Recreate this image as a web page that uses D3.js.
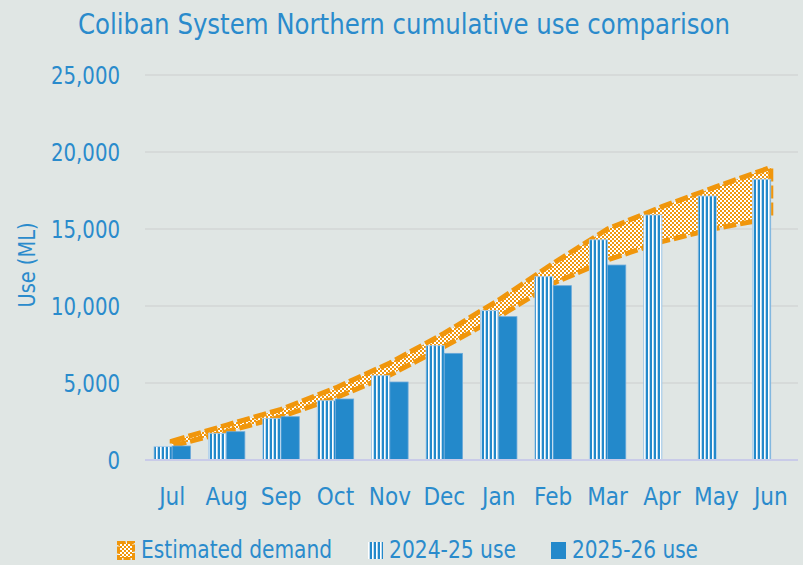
<!DOCTYPE html>
<html>
<head>
<meta charset="utf-8">
<script src="https://cdn.jsdelivr.net/npm/d3@7"></script>
<style>
  html, body { margin: 0; padding: 0; background: #e0e6e4; }
  svg { display: block; }
  text { font-family: "Liberation Sans Narrow", "DejaVu Sans Condensed", "Roboto Condensed", "Roboto", sans-serif; font-stretch: condensed; fill: #2a8bcc; }
</style>
</head>
<body>
<svg id="chart" width="803" height="565"></svg>
<script>
const months = ["Jul","Aug","Sep","Oct","Nov","Dec","Jan","Feb","Mar","Apr","May","Jun"];
const use2425 = [866, 1732, 2706, 3853, 5476, 7420, 9697, 11905, 14300, 15910, 17140, 18230];
const use2526 = [909, 1838, 2812, 3961, 5065, 6926, 9307, 11320, 12660, null, null, null];
const demandLow  = [910, 1840, 2810, 4030, 5520, 7360, 9300, 11470, 12990, 14180, 15050, 15700];
const demandHigh = [1230, 2270, 3290, 4680, 6300, 8230, 10390, 12770, 15000, 16450, 17750, 19000];
const yTicks = [0, 5000, 10000, 15000, 20000, 25000];
const seriesNames = ["Estimated demand", "2024-25 use", "2025-26 use"];
const titleText = "Coliban System Northern cumulative use comparison";
const yTitle = "Use (ML)";

const BLUE = "#2389cb", ORANGE = "#f0960c", TEXT = "#2a8bcc";
const svg = d3.select("#chart");
const defs = svg.append("defs");

// squeeze a text node horizontally by factor k (keeps it as real text)
function squeeze(node, k) {
  const w = node.getComputedTextLength();
  d3.select(node).attr("textLength", w * k).attr("lengthAdjust", "spacingAndGlyphs");
}
function fitTo(node, target) {
  d3.select(node).attr("textLength", target).attr("lengthAdjust", "spacingAndGlyphs");
}

// vertical stripes pattern
const ps = defs.append("pattern").attr("id","stripes").attr("patternUnits","userSpaceOnUse")
  .attr("width",4).attr("height",4);
ps.append("rect").attr("width",4).attr("height",4).attr("fill",BLUE);
ps.append("rect").attr("x",0).attr("width",1.7).attr("height",4).attr("fill","#ffffff");

// checker pattern
const pc = defs.append("pattern").attr("id","checker").attr("patternUnits","userSpaceOnUse")
  .attr("width",4).attr("height",4);
pc.append("rect").attr("width",4).attr("height",4).attr("fill",ORANGE);
pc.append("rect").attr("x",0).attr("y",0).attr("width",2).attr("height",2).attr("fill","#ffffff");
pc.append("rect").attr("x",2).attr("y",2).attr("width",2).attr("height",2).attr("fill","#ffffff");

const x0 = d3.scaleBand().domain(months).range([145, 798]).paddingInner(0.33).paddingOuter(0.165);
const x1 = d3.scaleBand().domain(["a","b"]).range([0, x0.bandwidth()]);
const y = d3.scaleLinear().domain([0, 25000]).range([460, 75]);

// title
const t = svg.append("text").attr("x", 404).attr("y", 34).attr("text-anchor","middle")
  .style("font-size","29px").text(titleText);
fitTo(t.node(), 652);

// gridlines
svg.append("g").selectAll("line").data(yTicks.filter(d => d > 0)).join("line")
  .attr("x1", 145).attr("x2", 798).attr("y1", d => y(d)).attr("y2", d => y(d))
  .attr("stroke", "#d3d6d6").attr("stroke-width", 1.5);

// y axis labels
const yAxis = d3.axisLeft(y).tickValues(yTicks).tickSize(0).tickPadding(0)
  .tickFormat(d3.format(","));
const gy = svg.append("g").attr("transform","translate(120,0)").call(yAxis);
gy.select(".domain").remove();
gy.selectAll("text").style("font-size","25px").attr("fill", TEXT).attr("dy","0.35em");
{
  const ref = gy.selectAll("text").nodes().find(n => n.textContent === "25,000");
  const k = 69 / ref.getComputedTextLength();
  gy.selectAll("text").each(function() { squeeze(this, k); });
}

// y title
const yt = svg.append("text").attr("transform","translate(35,265) rotate(-90)").attr("text-anchor","middle")
  .style("font-size","23px").text(yTitle);
fitTo(yt.node(), 85);

// demand band
const area = d3.area()
  .x((d, i) => x0(months[i]) + x0.bandwidth() / 2)
  .y0((d, i) => y(demandLow[i]))
  .y1((d, i) => y(demandHigh[i]));
svg.append("path").datum(months).attr("d", area)
  .attr("fill", "url(#checker)").attr("stroke", ORANGE).attr("stroke-width", 5)
  .attr("stroke-dasharray", "13,4").attr("stroke-linejoin","miter");

// bars
const g = svg.append("g");
g.selectAll("rect.b1").data(months).join("rect").attr("class","b1")
  .attr("x", m => x0(m) + x1("a")).attr("width", x1.bandwidth())
  .attr("y", (m, i) => y(use2425[i])).attr("height", (m, i) => y(0) - y(use2425[i]))
  .attr("fill", "url(#stripes)").attr("stroke","#a9cbe8").attr("stroke-width",0.8);
g.selectAll("rect.b2").data(months.filter((m, i) => use2526[i] != null)).join("rect").attr("class","b2")
  .attr("x", m => x0(m) + x1("b")).attr("width", x1.bandwidth())
  .attr("y", m => y(use2526[months.indexOf(m)]))
  .attr("height", m => y(0) - y(use2526[months.indexOf(m)]))
  .attr("fill", BLUE).attr("stroke","#6aa9da").attr("stroke-width",0.8);

// baseline
svg.append("line").attr("x1",145).attr("x2",798).attr("y1",y(0)).attr("y2",y(0))
  .attr("stroke","#c9cbe8").attr("stroke-width",2);

// x axis labels
const xAxis = d3.axisBottom(x0).tickSize(0).tickPadding(0);
const gx = svg.append("g").attr("transform","translate(0,497)").call(xAxis);
gx.select(".domain").remove();
gx.selectAll("text").style("font-size","24px").attr("fill", TEXT).attr("dy","0.35em");

// legend
const leg = svg.append("g");
leg.append("rect").attr("x", 118.5).attr("y", 542.5).attr("width", 15).attr("height", 16)
  .attr("fill","url(#checker)").attr("stroke", ORANGE).attr("stroke-width",3).attr("stroke-dasharray","7,1.5");
leg.append("rect").attr("x", 368).attr("y", 542).attr("width", 15).attr("height", 17)
  .attr("fill","url(#stripes)");
leg.append("rect").attr("x", 551).attr("y", 542).attr("width", 15).attr("height", 17)
  .attr("fill", BLUE);
const tx = [141, 389, 572];
const tw = [191, 127, 126];
leg.selectAll("text.l").data(seriesNames).join("text").attr("class","l")
  .attr("x", (d, i) => tx[i]).attr("y", 558)
  .style("font-size","25px").text(d => d)
  .each(function(d, i) { fitTo(this, tw[i]); });
</script>
</body>
</html>
